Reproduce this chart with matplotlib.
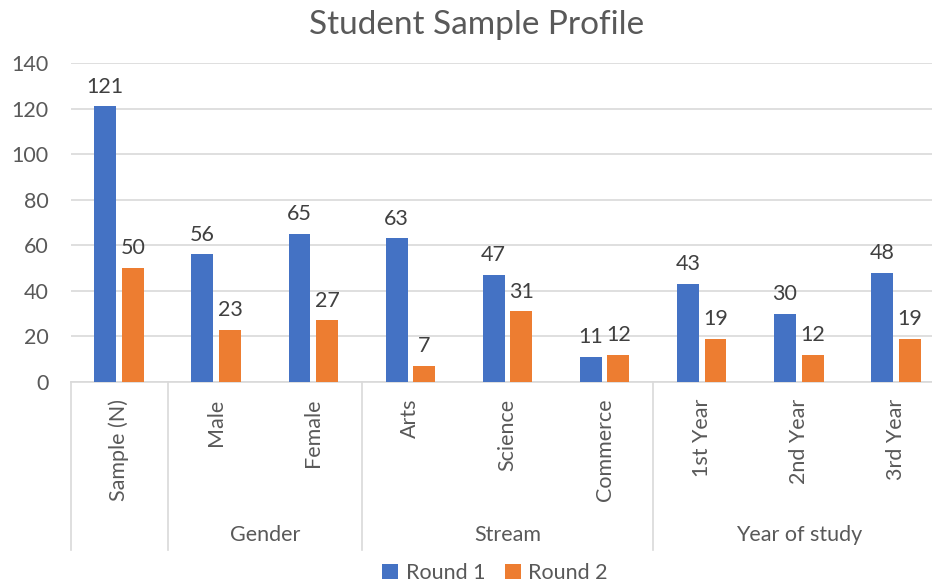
import matplotlib.pyplot as plt
import numpy as np

plt.rcParams['font.family'] = ['Lato', 'DejaVu Sans']

# data
categories = ['Sample (N)', 'Male', 'Female', 'Arts', 'Science', 'Commerce',
              '1st Year', '2nd Year', '3rd Year']
round1 = [121, 56, 65, 63, 47, 11, 43, 30, 48]
round2 = [50, 23, 27, 7, 31, 12, 19, 12, 19]
groups = ['', 'Gender', 'Stream', 'Year of study']
group_sizes = [1, 2, 3, 3]

blue = '#4472c4'
orange = '#ed7d31'
grey_txt = '#595959'
grid_col = '#d9d9d9'
fs = 15.5

fig = plt.figure(figsize=(9.32, 5.86), dpi=100)
ax = fig.add_axes([70.5 / 932, 1 - 382 / 586, 874 / 932, 319 / 586])

x = np.arange(len(categories))
w = 0.225
off = 0.142
b1 = ax.bar(x - off, round1, w, color=blue, label='Round 1', zorder=3)
b2 = ax.bar(x + off, round2, w, color=orange, label='Round 2', zorder=3)

# data labels
for bars in (b1, b2):
    ax.bar_label(bars, padding=7, fontsize=fs, color='#404040')

ax.set_xlim(-0.5, len(categories) - 0.5)
ax.set_ylim(0, 140)
ax.set_yticks(np.arange(0, 141, 20))
ax.yaxis.grid(True, color=grid_col, linewidth=1.2, zorder=0)
ax.tick_params(axis='y', length=0, pad=16, labelsize=fs, labelcolor=grey_txt)

ax.set_xticks(x)
ax.set_xticklabels(categories, rotation=90, fontsize=fs, color=grey_txt)
ax.tick_params(axis='x', length=0, pad=12)

for s in ['left', 'right', 'top']:
    ax.spines[s].set_visible(False)
ax.spines['bottom'].set_color(grid_col)
ax.spines['bottom'].set_linewidth(1.2)

# group separators and group labels
trans = ax.get_xaxis_transform()
bounds = np.concatenate([[0], np.cumsum(group_sizes)]) - 0.5
for b in bounds:
    ax.plot([b, b], [0, -0.527], transform=trans, color=grid_col,
            linewidth=1.2, clip_on=False)
for g, lo, hi in zip(groups, bounds[:-1], bounds[1:]):
    ax.text((lo + hi) / 2, -0.48, g, transform=trans, ha='center',
            va='center', fontsize=fs, color=grey_txt)

fig.text(0.511, 0.958, 'Student Sample Profile', ha='center', va='center',
         fontsize=24, color=grey_txt)

fig.legend(handles=[b1, b2], loc='center', bbox_to_anchor=(0.531, 0.022),
           ncol=2, frameon=False, fontsize=fs, labelcolor=grey_txt,
           handlelength=0.75, handleheight=0.75, handletextpad=0.35,
           columnspacing=0.9)

fig.savefig('out.png', dpi=100)
